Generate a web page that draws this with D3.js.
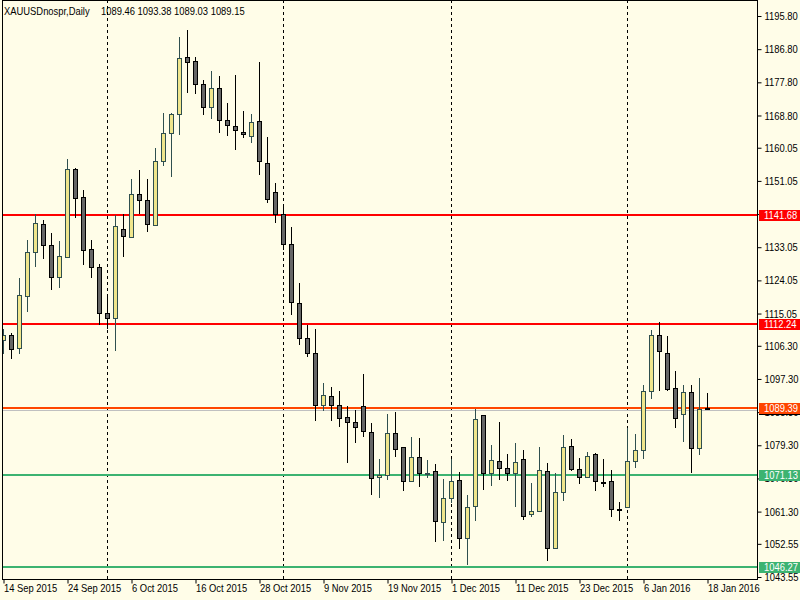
<!DOCTYPE html>
<html><head><meta charset="utf-8">
<script src="https://cdn.jsdelivr.net/npm/d3@7"></script>
<style>
body{margin:0;background:#FFFDE8;}
svg text{font-family:"Liberation Sans",Arial,sans-serif;font-size:11px;}
</style>
</head><body>
<svg id="chart" width="800" height="600"></svg>
<script>
const dates = [
"2015-09-14","2015-09-15","2015-09-16","2015-09-17","2015-09-18","2015-09-21","2015-09-22","2015-09-23","2015-09-24","2015-09-25","2015-09-28","2015-09-29","2015-09-30",
"2015-10-01","2015-10-02","2015-10-05","2015-10-06","2015-10-07","2015-10-08","2015-10-09","2015-10-12","2015-10-13","2015-10-14","2015-10-15","2015-10-16","2015-10-19","2015-10-20","2015-10-21","2015-10-22","2015-10-23","2015-10-26","2015-10-27","2015-10-28","2015-10-29","2015-10-30",
"2015-11-02","2015-11-03","2015-11-04","2015-11-05","2015-11-06","2015-11-09","2015-11-10","2015-11-11","2015-11-12","2015-11-13","2015-11-16","2015-11-17","2015-11-18","2015-11-19","2015-11-20","2015-11-23","2015-11-24","2015-11-25","2015-11-26","2015-11-27","2015-11-30",
"2015-12-01","2015-12-02","2015-12-03","2015-12-04","2015-12-07","2015-12-08","2015-12-09","2015-12-10","2015-12-11","2015-12-14","2015-12-15","2015-12-16","2015-12-17","2015-12-18","2015-12-21","2015-12-22","2015-12-23","2015-12-24","2015-12-28","2015-12-29","2015-12-30","2015-12-31",
"2016-01-04","2016-01-05","2016-01-06","2016-01-07","2016-01-08","2016-01-11","2016-01-12","2016-01-13","2016-01-14","2016-01-15","2016-01-18"
];
const open = [
1107.9,1109.2,1105.6,1119.7,1131.7,1139.3,1133.6,1124.9,1130.5,1154.2,1146.6,1132.5,1127.6,
1115.1,1113.8,1137.9,1135.9,1147.4,1145.8,1139.0,1156.4,1164.0,1169.1,1184.6,1183.5,1177.3,1171.0,1176.2,1167.5,1165.9,1164.2,1163.1,1167.2,1155.8,1147.9,
1142.2,1133.8,1117.8,1108.3,1104.3,1090.2,1092.6,1090.2,1086.9,1085.5,1089.9,1082.8,1070.6,1071.1,1082.6,1078.8,1069.5,1076.0,1071.7,1072.2,1058.4,
1064.9,1069.8,1054.0,1062.7,1087.4,1071.7,1075.0,1073.1,1071.7,1075.5,1060.6,1061.4,1072.2,1051.3,1066.5,1079.0,1072.8,1070.6,1076.8,1069.2,1069.5,1061.9,
1062.5,1075.0,1077.9,1093.9,1109.2,1104.3,1094.8,1087.7,1093.7,1078.5,1089.46
];
const high = [
1110.9,1109.8,1124.7,1135.0,1142.1,1140.4,1136.9,1134.7,1157.0,1154.5,1148.5,1135.0,1128.4,
1119.8,1141.8,1142.2,1151.6,1154.0,1151.6,1160.0,1169.4,1169.4,1190.0,1192.0,1184.6,1178.4,1180.8,1179.4,1172.1,1179.7,1169.9,1169.1,1183.2,1162.9,1150.4,
1144.1,1138.5,1123.3,1111.9,1110.9,1096.1,1095.0,1093.9,1089.9,1088.8,1098.6,1085.3,1075.5,1087.7,1088.3,1078.8,1081.5,1081.2,1075.2,1074.1,1070.1,
1075.5,1072.0,1065.7,1089.2,1087.4,1079.3,1085.5,1076.8,1079.8,1077.9,1069.0,1078.8,1074.4,1071.7,1082.0,1080.9,1075.8,1077.4,1077.1,1075.5,1072.5,1063.8,
1083.9,1082.3,1095.7,1110.5,1112.7,1108.9,1099.4,1095.6,1095.6,1097.5,1093.38
];
const low = [
1104.1,1102.8,1104.1,1115.6,1127.8,1129.9,1121.5,1122.1,1130.3,1141.1,1128.3,1124.8,1112.0,
1110.9,1105.0,1130.5,1135.5,1142.2,1137.1,1138.8,1155.2,1152.2,1163.6,1175.0,1174.5,1168.9,1167.8,1164.0,1163.1,1159.4,1162.6,1161.2,1152.6,1145.0,1139.7,
1132.3,1114.7,1106.6,1103.3,1085.8,1088.7,1085.8,1084.3,1074.6,1080.0,1081.6,1065.9,1064.9,1069.9,1076.1,1067.0,1069.3,1068.1,1070.3,1053.1,1053.4,
1063.6,1051.1,1046.7,1058.7,1067.1,1068.2,1069.8,1069.7,1062.6,1059.0,1059.8,1061.2,1048.0,1051.2,1064.3,1072.2,1068.7,1070.3,1066.8,1067.9,1059.8,1058.7,
1062.3,1073.1,1075.5,1091.8,1093.9,1093.9,1083.9,1080.1,1071.7,1076.6,1089.03
];
const close = [
1109.2,1105.4,1120.0,1131.7,1139.5,1133.6,1124.9,1130.6,1154.2,1146.3,1132.2,1127.6,1115.1,
1113.9,1138.7,1136.0,1147.4,1145.8,1139.3,1156.4,1164.0,1169.1,1184.3,1183.2,1177.3,1171.0,1176.2,1167.5,1166.1,1164.8,1163.7,1166.9,1156.4,1146.0,1142.2,
1133.8,1118.1,1108.3,1104.3,1090.2,1092.9,1090.2,1086.6,1085.5,1084.2,1083.1,1070.3,1071.1,1082.6,1078.2,1069.5,1076.0,1071.7,1071.9,1058.7,1064.9,
1069.5,1054.0,1062.5,1086.4,1071.7,1075.2,1073.1,1071.7,1074.7,1060.0,1061.4,1072.5,1051.3,1066.5,1078.8,1072.8,1070.6,1076.3,1069.5,1069.0,1061.9,1061.6,
1075.0,1077.9,1093.9,1109.2,1104.8,1094.5,1086.6,1093.7,1078.5,1089.1,1089.15
];
const priceTicks = [1195.80,1186.80,1177.80,1168.80,1160.05,1151.05,1142.05,1133.05,1124.05,1115.05,1106.30,1097.30,1088.30,1079.30,1070.30,1061.30,1052.55,1043.55];
const dateTicks = ["2015-09-14","2015-09-24","2015-10-06","2015-10-16","2015-10-28","2015-11-09","2015-11-19","2015-12-01","2015-12-11","2015-12-23","2016-01-06","2016-01-18"];
const separators = ["2015-10-01","2015-11-02","2015-12-01","2016-01-04"];
const levels = [1141.68,1112.24,1089.39,1071.13,1046.27];
const levelColors = ["#FF0000","#FF0000","#FF4500","#3CB371","#3CB371"];
const bidPrice = 1089.15;
const symbolName = "XAUUSDnospr,Daily";

(function(){
const svg = d3.select("#chart");
const W = 800, H = 600;
const pLeft = 2, pRight = 757, pTop = 0, pBottom = 579;
const bg = "#FFFDE8";
const SX = 0.855; // horizontal condensing to mimic Tahoma metrics

function condense(sel) {
  sel.each(function(){
    const t = d3.select(this);
    const x0 = +t.attr("x") || 0;
    t.attr("x", x0 / SX).attr("transform", `scale(${SX},1)`);
  });
}

svg.append("rect").attr("width", W).attr("height", H).attr("fill", bg);

const x = d3.scalePoint().domain(dates).range([3, 707]);
const y = d3.scaleLinear().domain([1195.80, 1043.55]).range([16, 577]);

svg.append("clipPath").attr("id","clip").append("rect")
  .attr("x", pLeft).attr("y", pTop).attr("width", pRight-pLeft).attr("height", pBottom-pTop);
const plot = svg.append("g").attr("clip-path","url(#clip)");

// month separators
plot.selectAll("line.sep").data(separators).enter().append("line")
  .attr("x1", d => x(d)+0.5).attr("x2", d => x(d)+0.5)
  .attr("y1", pTop).attr("y2", pBottom)
  .attr("stroke", "#000").attr("stroke-width", 1).attr("stroke-dasharray", "3,3");

// horizontal levels
plot.append("line")
  .attr("x1", pLeft).attr("x2", pRight)
  .attr("y1", Math.round(y(bidPrice))+1.5).attr("y2", Math.round(y(bidPrice))+1.5)
  .attr("stroke", "#C0C0C0").attr("stroke-width", 1);
plot.selectAll("line.lvl").data(levels).enter().append("line")
  .attr("x1", pLeft).attr("x2", pRight)
  .attr("y1", d => Math.round(y(d))).attr("y2", d => Math.round(y(d)))
  .attr("stroke", (d,i) => levelColors[i]).attr("stroke-width", 2);

// candles
const bars = dates.map((d,i) => ({d, o:open[i], h:high[i], l:low[i], c:close[i]}));
const g = plot.selectAll("g.c").data(bars).enter().append("g");
g.append("line")
  .attr("x1", d => x(d.d)+0.5).attr("x2", d => x(d.d)+0.5)
  .attr("y1", d => Math.round(y(d.h))).attr("y2", d => Math.round(y(d.l)))
  .attr("stroke", d => d.c >= d.o ? "#2F4F4F" : "#000").attr("stroke-width", 1);
g.append("rect")
  .attr("x", d => x(d.d)-1.5).attr("width", 4)
  .attr("y", d => Math.round(y(Math.max(d.o,d.c)))+0.5)
  .attr("height", d => Math.max(1, Math.round(y(Math.min(d.o,d.c))) - Math.round(y(Math.max(d.o,d.c)))))
  .attr("fill", d => d.c >= d.o ? "#F0E68C" : "#666666")
  .attr("stroke", d => d.c >= d.o ? "#2F4F4F" : "#000").attr("stroke-width", 1);

// frame
svg.append("line").attr("x1", pLeft+0.5).attr("x2", pLeft+0.5).attr("y1", 0).attr("y2", pBottom).attr("stroke","#000");
svg.append("line").attr("x1", pLeft).attr("x2", pRight).attr("y1", 0.5).attr("y2", 0.5).attr("stroke","#000");

// right axis
const yAxis = d3.axisRight(y).tickValues(priceTicks).tickFormat(d3.format(".2f")).tickSize(4).tickSizeOuter(0).tickPadding(3);
const ya = svg.append("g").attr("transform", `translate(${pRight+0.5},0)`).call(yAxis);
ya.select(".domain").remove();
ya.selectAll("text").attr("fill","#000").attr("font-size","11px").attr("font-family",null);
ya.selectAll("line").attr("stroke","#000");
condense(ya.selectAll("text"));
svg.append("line").attr("x1", pRight+0.5).attr("x2", pRight+0.5).attr("y1", 0).attr("y2", pBottom+1).attr("stroke","#000");

// bottom axis
const fmt = d => d3.timeFormat("%-d %b %Y")(d3.timeParse("%Y-%m-%d")(d));
const xAxis = d3.axisBottom(x).tickValues(dateTicks).tickFormat(fmt).tickSize(4).tickSizeOuter(0);
const xa = svg.append("g").attr("transform", `translate(0.5,${pBottom+0.5})`).call(xAxis);
xa.select(".domain").remove();
xa.selectAll("text").attr("text-anchor","start").attr("x", 0).attr("dy", null).attr("y", 12.5)
  .attr("fill","#000").attr("font-size","11px").attr("font-family",null);
xa.selectAll("line").attr("stroke","#000");
condense(xa.selectAll("text"));
svg.append("line").attr("x1", pLeft).attr("x2", pRight+1).attr("y1", pBottom+0.5).attr("y2", pBottom+0.5).attr("stroke","#000");

// price labels on axis
const f2 = d3.format(".2f");
function priceLabel(v, color) {
  const yy = Math.round(y(v));
  svg.append("rect").attr("x", pRight+2).attr("y", yy-5).attr("width", W-pRight-2).attr("height", 11).attr("fill", color);
  const t = svg.append("text").attr("x", pRight+7).attr("y", yy).attr("dy","0.36em").attr("fill","#fff").text(f2(v));
  condense(t);
}
priceLabel(bidPrice, "#000");
levels.forEach((v,i) => priceLabel(v, levelColors[i]));

// title
const n = open.length - 1;
condense(svg.append("text").attr("x", 4).attr("y", 15).attr("fill","#000").text(symbolName));
condense(svg.append("text").attr("x", 101).attr("y", 15).attr("fill","#000")
  .text(`${f2(open[n])} ${f2(high[n])} ${f2(low[n])} ${f2(close[n])}`));
})();
</script>
</body></html>
